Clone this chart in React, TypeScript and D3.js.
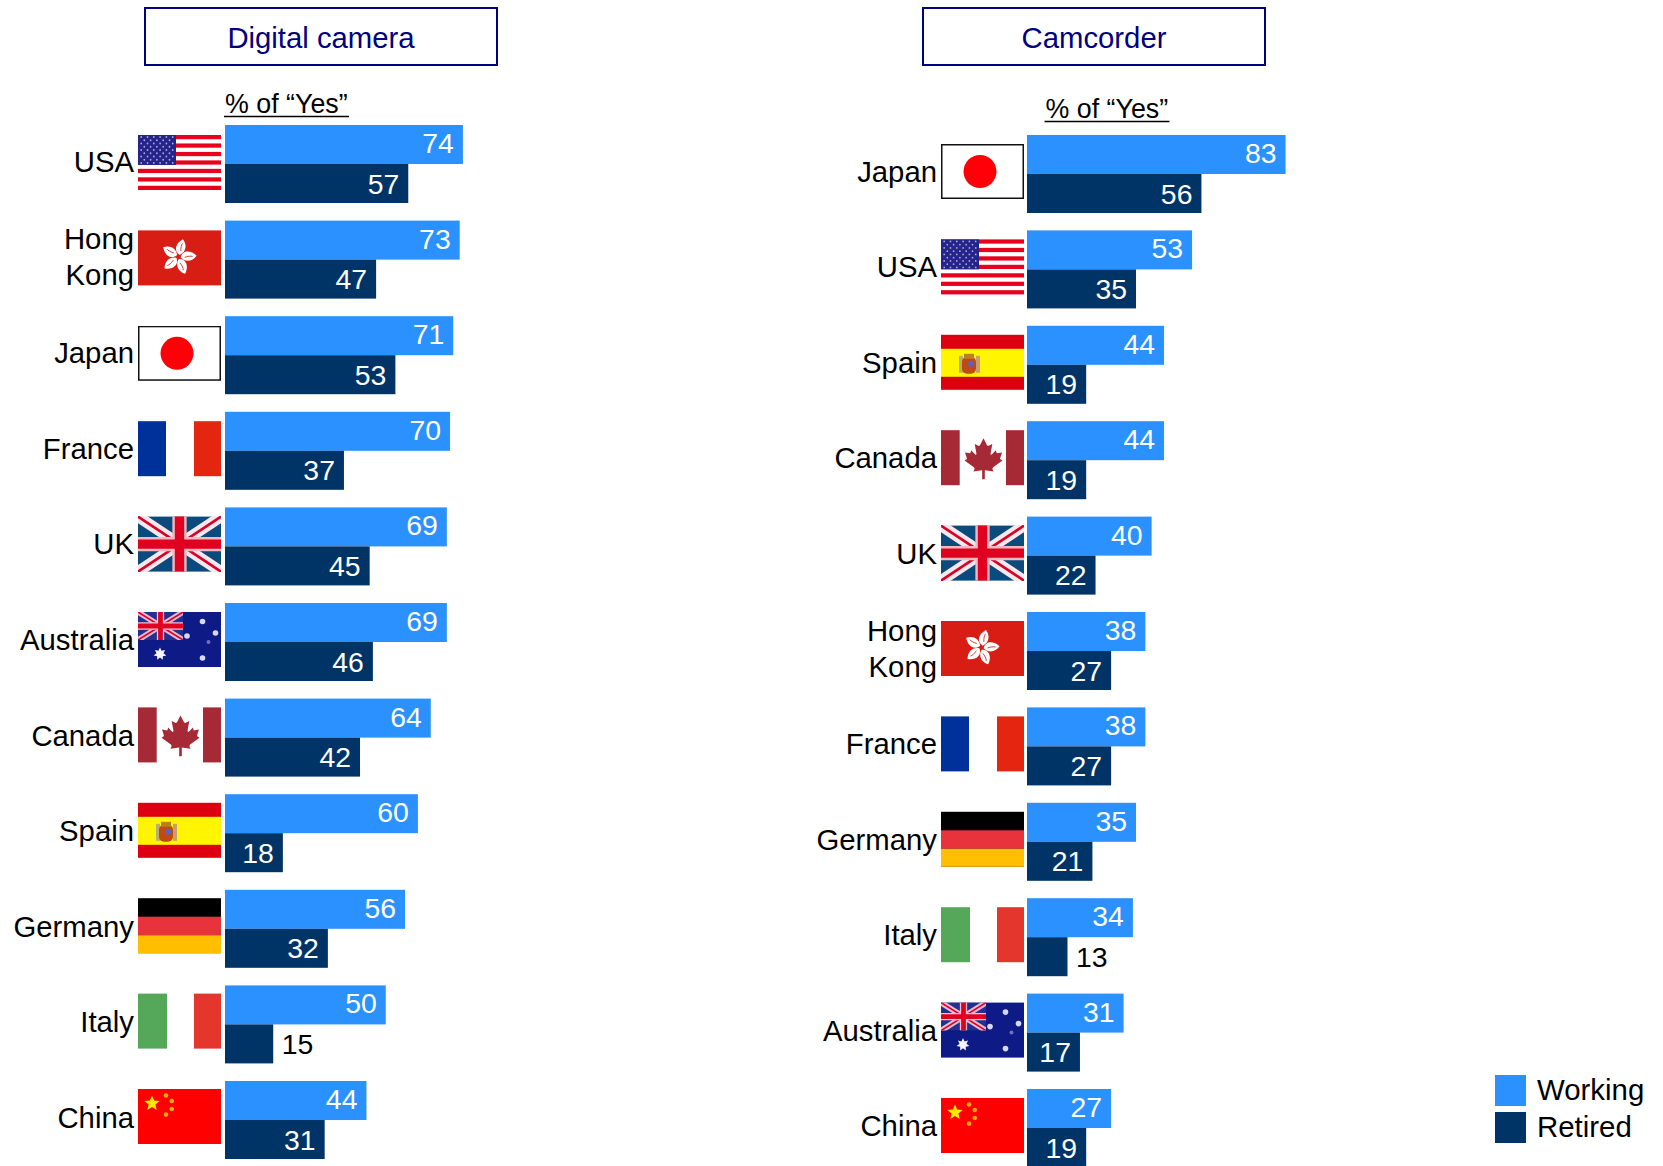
import React from "react";
import * as d3 from "d3";

const digitalCountries = ["USA", "Hong Kong", "Japan", "France", "UK", "Australia", "Canada", "Spain", "Germany", "Italy", "China"];
const digitalWorking = [74, 73, 71, 70, 69, 69, 64, 60, 56, 50, 44];
const digitalRetired = [57, 47, 53, 37, 45, 46, 42, 18, 32, 15, 31];

const camcorderCountries = ["Japan", "USA", "Spain", "Canada", "UK", "Hong Kong", "France", "Germany", "Italy", "Australia", "China"];
const camcorderWorking = [83, 53, 44, 44, 40, 38, 38, 35, 34, 31, 27];
const camcorderRetired = [56, 35, 19, 19, 22, 27, 27, 21, 13, 17, 19];

const seriesNames = ["Working", "Retired"];
const panelTitles = ["Digital camera", "Camcorder"];
const subtitle = "% of “Yes”";

const WORKING = "#2A91FF";
const RETIRED = "#003366";
const NAVY = "#000080";
const FONT = "'Liberation Sans', Arial, sans-serif";
const FW = 83;
const FH = 55;

const star = (cx: number, cy: number, r: number, rot = -90, n = 5, ratio = 0.38) => {
  const pts: string[] = [];
  for (let i = 0; i < n * 2; i++) {
    const rr = i % 2 ? r * ratio : r;
    const a = ((rot + (i * 180) / n) * Math.PI) / 180;
    pts.push(`${(cx + rr * Math.cos(a)).toFixed(2)},${(cy + rr * Math.sin(a)).toFixed(2)}`);
  }
  return pts.join(" ");
};

const MAPLE =
  "M0,-21 L-4,-13 C-5,-12 -6,-12 -7,-13 L-10,-14.5 L-8,-3 C-8,-1.5 -9,-1.5 -10,-2.5 L-14,-7 L-15,-3.5 L-21,-4.5 L-19,2 C-18.6,3 -19,3.6 -20,4 L-21.5,5 L-11,13 C-10,14 -10,15 -10.5,16 L-11.5,18 L-1.5,16.5 L-1.5,27 L1.5,27 L1.5,16.5 L11.5,18 L10.5,16 C10,15 10,14 11,13 L21.5,5 L20,4 C19,3.6 18.6,3 19,2 L21,-4.5 L15,-3.5 L14,-7 L10,-2.5 C9,-1.5 8,-1.5 8,-3 L10,-14.5 L7,-13 C6,-12 5,-12 4,-13 Z";

const UnionJack = ({ w, h, bg, diag, thin, edge }: { w: number; h: number; bg: string; diag: string; thin: number; edge: string }) => (
  <g>
    <rect width={w} height={h} fill={bg} />
    <path d={`M0,0 L${w},${h} M${w},0 L0,${h}`} stroke={diag} strokeWidth={h * 0.2} />
    <path d={`M0,0 L${w},${h} M${w},0 L0,${h}`} stroke="#D80027" strokeWidth={thin} />
    <path d={`M${w / 2},0 V${h} M0,${h / 2} H${w}`} stroke={edge} strokeWidth={h * 0.26} />
    <path d={`M${w / 2},0 V${h} M0,${h / 2} H${w}`} stroke="#E00020" strokeWidth={h * 0.17} />
  </g>
);

const FlagArt = ({ name }: { name: string }) => {
  switch (name) {
    case "USA": {
      const stripe = FH / 13;
      const rows = d3.range(9);
      return (
        <g>
          <rect width={FW} height={FH} fill="#fff" />
          {d3.range(0, 13, 2).map((i) => (
            <rect key={i} y={i * stripe} width={FW} height={stripe} fill="#E8001C" />
          ))}
          <rect width={38} height={30} fill="#24248A" />
          {rows.map((r) =>
            d3.range(r % 2 ? 5 : 6).map((c) => (
              <circle key={`${r}-${c}`} cx={(r % 2 ? 6.3 : 3.2) + c * 6.3} cy={2 + r * 3.25} r={0.9} fill="#A8A8D8" />
            ))
          )}
        </g>
      );
    }
    case "Hong Kong":
      return (
        <g>
          <rect width={FW} height={FH} fill="#D81E14" />
          <g transform={`translate(${FW / 2 - 1},${FH / 2 - 1})`}>
            {d3.range(5).map((i) => (
              <g key={i} transform={`rotate(${i * 72 + 8})`}>
                <path d="M1,-2 C-6,-5 -5,-13 2,-18 C7,-13 7,-6 1,-2 Z" fill="#fff" />
                <path d="M1.5,-6 C1,-9 1,-12 2,-14" stroke="#D81E14" strokeWidth={0.8} fill="none" />
              </g>
            ))}
          </g>
        </g>
      );
    case "Japan":
      return (
        <g>
          <rect x={0.75} y={0.75} width={FW - 1.5} height={FH - 1.5} fill="#fff" stroke="#111" strokeWidth={1.5} />
          <circle cx={39} cy={FH / 2} r={16.5} fill="#FF0008" />
        </g>
      );
    case "France":
      return (
        <g>
          <rect width={FW} height={FH} fill="#fff" />
          <rect width={28} height={FH} fill="#00309A" />
          <rect x={56} width={27} height={FH} fill="#E4250F" />
        </g>
      );
    case "UK":
      return <UnionJack w={FW} h={FH} bg="#0B4A7C" diag="#F4E8EC" thin={2.6} edge="#F0B8C0" />;
    case "Australia":
      return (
        <g>
          <rect width={FW} height={FH} fill="#0E1A86" />
          <svg width={45} height={28} viewBox="0 0 45 28">
            <UnionJack w={45} h={28} bg="#23308F" diag="#EBB8D0" thin={1.6} edge="#F2C0D0" />
          </svg>
          <polygon points={star(22, 42, 6.5, -90, 7, 0.55)} fill="#F4F4FF" />
          <circle cx={64.5} cy={9.5} r={2.8} fill="#D8D8FF" />
          <circle cx={49} cy={24} r={2.8} fill="#D8D8FF" />
          <circle cx={77.5} cy={21} r={2.8} fill="#D8D8FF" />
          <circle cx={70.5} cy={30} r={2} fill="#7070C8" />
          <circle cx={64.5} cy={46} r={2.8} fill="#D8D8FF" />
        </g>
      );
    case "Canada":
      return (
        <g>
          <rect width={FW} height={FH} fill="#fff" />
          <rect width={18.7} height={FH} fill="#A62A36" />
          <rect x={65} width={18} height={FH} fill="#A62A36" />
          <g transform="translate(42.5,26) scale(0.88,0.85)">
            <path d={MAPLE} fill="#A62A36" />
          </g>
        </g>
      );
    case "Spain":
      return (
        <g>
          <rect width={FW} height={FH} fill="#DC0010" />
          <rect y={14} width={FW} height={28} fill="#FFF500" />
          <rect x={18} y={21} width={4} height={17} fill="#B8B070" />
          <rect x={35} y={21} width={4} height={17} fill="#C8A070" />
          <rect x={21} y={22} width={14} height={17} rx={5} fill="#C04A10" />
          <rect x={23} y={19} width={10} height={5} fill="#B88020" />
          <circle cx={30} cy={29} r={3} fill="#6060C0" />
        </g>
      );
    case "Germany":
      return (
        <g>
          <rect width={FW} height={FH} fill="#000" />
          <rect y={18.5} width={FW} height={18.5} fill="#E8333C" />
          <rect y={37} width={FW} height={18} fill="#FFBE00" />
        </g>
      );
    case "Italy":
      return (
        <g>
          <rect width={FW} height={FH} fill="#fff" />
          <rect width={29} height={FH} fill="#55A85A" />
          <rect x={56} width={27} height={FH} fill="#E5362E" />
        </g>
      );
    case "China":
      return (
        <g>
          <rect width={FW} height={FH} fill="#FF0000" />
          <polygon points={star(14, 14.5, 8, -90, 5, 0.45)} fill="#FFE800" />
          <circle cx={28} cy={6.5} r={2.3} fill="#FFA800" />
          <circle cx={33.7} cy={12} r={2.3} fill="#FFA800" />
          <circle cx={33.7} cy={20} r={2.3} fill="#FFA800" />
          <circle cx={28} cy={25.6} r={2.3} fill="#FFA800" />
        </g>
      );
    default:
      return null;
  }
};

type PanelProps = {
  countries: string[];
  working: number[];
  retired: number[];
  x0: number;
  pxPerUnit: number;
  firstTop: number;
  lastTop: number;
  flagX: number;
  flagFirst: number;
  flagLast: number;
};

const Panel = ({ countries, working, retired, x0, pxPerUnit, firstTop, lastTop, flagX, flagFirst, flagLast }: PanelProps) => {
  const x = d3.scaleLinear().domain([0, 100]).range([x0, x0 + 100 * pxPerUnit]);
  const y = d3.scaleLinear().domain([0, countries.length - 1]).range([firstTop, lastTop]);
  const fy = d3.scaleLinear().domain([0, countries.length - 1]).range([flagFirst, flagLast]);
  const barH = 39;
  const labelX = flagX - 4;
  return (
    <g>
      {countries.map((c, i) => {
        const top = y(i);
        const flagTop = fy(i);
        const lines = c === "Hong Kong" ? ["Hong", "Kong"] : [c];
        const retiredOutside = retired[i] < 16;
        return (
          <g key={c}>
            {lines.map((ln, k) => (
              <text
                key={ln}
                x={labelX}
                y={top + 47 + (k - (lines.length - 1) / 2) * 36 - (lines.length - 1) * 0.5}
                textAnchor="end"
                fontSize={29.3}
                fill="#000"
              >
                {ln}
              </text>
            ))}
            <g transform={`translate(${flagX},${flagTop})`} filter="url(#soft)">
              <FlagArt name={c} />
            </g>
            <rect x={x(0)} y={top} width={x(working[i]) - x(0)} height={barH} fill={WORKING} />
            <rect x={x(0)} y={top + barH} width={x(retired[i]) - x(0)} height={barH} fill={RETIRED} />
            <text x={x(working[i]) - 9} y={top + 28} textAnchor="end" fontSize={28.4} fill="#fff">
              {working[i]}
            </text>
            {retiredOutside ? (
              <text x={x(retired[i]) + 8.5} y={top + barH + 29.5} textAnchor="start" fontSize={28.4} fill="#000">
                {retired[i]}
              </text>
            ) : (
              <text x={x(retired[i]) - 9} y={top + barH + 29.5} textAnchor="end" fontSize={28.4} fill="#fff">
                {retired[i]}
              </text>
            )}
          </g>
        );
      })}
    </g>
  );
};

const TitleBox = ({ x, w, label }: { x: number; w: number; label: string }) => (
  <g>
    <rect x={x} y={8} width={w} height={57} fill="#fff" stroke={NAVY} strokeWidth={2} />
    <text x={x + w / 2} y={48} textAnchor="middle" fontSize={29.3} fill={NAVY}>
      {label}
    </text>
  </g>
);

const Sub = ({ x, y }: { x: number; y: number }) => (
  <g>
    <text x={x} y={y} fontSize={26.8} fill="#000">
      {subtitle}
    </text>
    <line x1={x - 1} x2={x + 124} y1={y + 3.5} y2={y + 3.5} stroke="#000" strokeWidth={1.6} />
  </g>
);

export default function App() {
  return (
    <svg
      width={1663}
      height={1166}
      viewBox="0 0 1663 1166"
      style={{ position: "absolute", left: 0, top: 0, display: "block", background: "#fff" }}
      fontFamily={FONT}
    >
      <defs>
        <filter id="soft" x="0" y="0" width="100%" height="100%" colorInterpolationFilters="sRGB">
          <feGaussianBlur stdDeviation="0.7" edgeMode="duplicate" />
        </filter>
      </defs>
      <TitleBox x={145} w={352} label={panelTitles[0]} />
      <TitleBox x={923} w={342} label={panelTitles[1]} />
      <Sub x={225} y={113} />
      <Sub x={1045.5} y={118} />
      <Panel
        countries={digitalCountries}
        working={digitalWorking}
        retired={digitalRetired}
        x0={225}
        pxPerUnit={3.215}
        firstTop={125}
        lastTop={1081}
        flagX={138}
        flagFirst={135}
        flagLast={1089}
      />
      <Panel
        countries={camcorderCountries}
        working={camcorderWorking}
        retired={camcorderRetired}
        x0={1027}
        pxPerUnit={3.115}
        firstTop={135}
        lastTop={1089}
        flagX={941}
        flagFirst={144}
        flagLast={1098}
      />
      {seriesNames.map((s, i) => (
        <g key={s}>
          <rect x={1495} y={1075 + i * 37} width={31} height={31} fill={i === 0 ? WORKING : RETIRED} />
          <text x={1537} y={1100 + i * 37} fontSize={29.4} fill="#000">
            {s}
          </text>
        </g>
      ))}
    </svg>
  );
}
